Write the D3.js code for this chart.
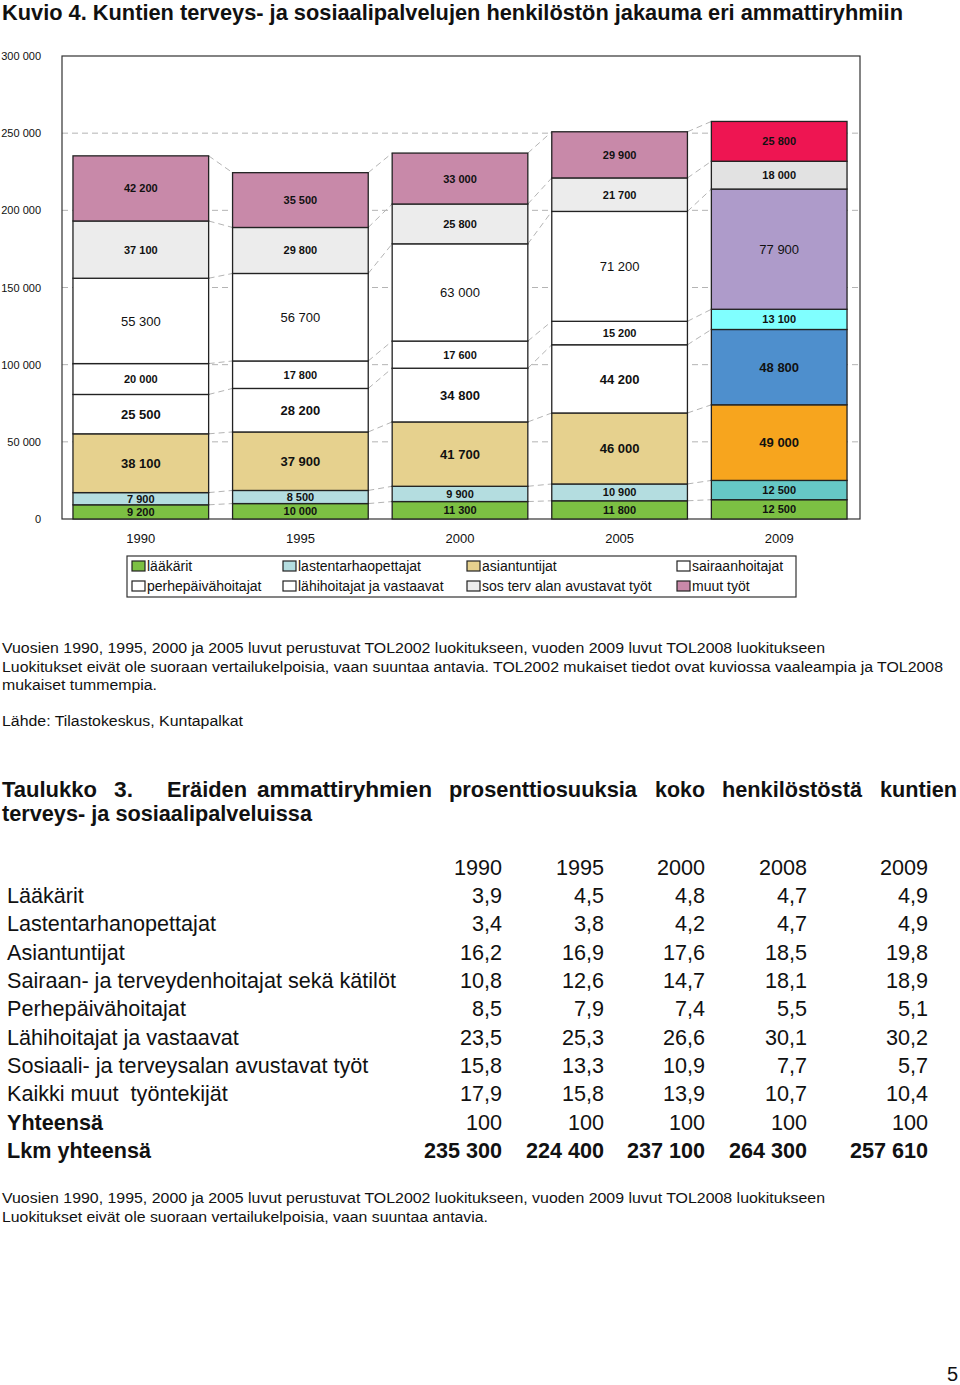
<!DOCTYPE html>
<html><head><meta charset="utf-8">
<script src="https://cdn.jsdelivr.net/npm/d3@7"></script>
<style>
html,body{margin:0;padding:0;background:#fff;}
svg{display:block;}
text{font-family:"Liberation Sans",Arial,Helvetica,sans-serif;fill:#111;}
</style></head>
<body>
<svg id="page" width="960" height="1385"></svg>
<script>
// ---------- DATA ----------
const years = ["1990","1995","2000","2005","2009"];
const seriesNames = ["lääkärit","lastentarhaopettajat","asiantuntijat","sairaanhoitajat",
  "perhepäivähoitajat","lähihoitajat ja vastaavat","sos terv alan avustavat työt","muut työt"];
const laakarit        = [9200, 10000, 11300, 11800, 12500];
const lastentarha     = [7900, 8500, 9900, 10900, 12500];
const asiantuntijat   = [38100, 37900, 41700, 46000, 49000];
const sairaanhoitajat = [25500, 28200, 34800, 44200, 48800];
const perhepaiva      = [20000, 17800, 17600, 15200, 13100];
const lahihoitajat    = [55300, 56700, 63000, 71200, 77900];
const sosterv         = [37100, 29800, 25800, 21700, 18000];
const muut            = [42200, 35500, 33000, 29900, 25800];
const yTicks = [0, 50000, 100000, 150000, 200000, 250000, 300000];
const yTickLabels = ["0","50 000","100 000","150 000","200 000","250 000","300 000"];

const tableYears = ["1990","1995","2000","2008","2009"];
const tableLabels = ["Lääkärit","Lastentarhanopettajat","Asiantuntijat","Sairaan- ja terveydenhoitajat sekä kätilöt",
  "Perhepäivähoitajat","Lähihoitajat ja vastaavat","Sosiaali- ja terveysalan avustavat työt","Kaikki muut  työntekijät"];
const tLaakarit   = ["3,9","4,5","4,8","4,7","4,9"];
const tLastentarha= ["3,4","3,8","4,2","4,7","4,9"];
const tAsiantunt  = ["16,2","16,9","17,6","18,5","19,8"];
const tSairaan    = ["10,8","12,6","14,7","18,1","18,9"];
const tPerhe      = ["8,5","7,9","7,4","5,5","5,1"];
const tLahi       = ["23,5","25,3","26,6","30,1","30,2"];
const tSosiaali   = ["15,8","13,3","10,9","7,7","5,7"];
const tMuut       = ["17,9","15,8","13,9","10,7","10,4"];
const tYhteensa   = ["100","100","100","100","100"];
const tLkm        = ["235 300","224 400","237 100","264 300","257 610"];

// ---------- STYLE ----------
const lightColors = ["#7cc043","#b4dde0","#e6d18e","#ffffff","#ffffff","#ffffff","#ececec","#c889a9"];
const darkColors  = ["#7cc043","#66c8c6","#f7a51e","#4e8fcd","#80ffff","#ae9bca","#e2e2e2","#ee1552"];
const labelSize   = [11,11,13,13,11,13,11,11];
const labelWeight = ["bold","bold","bold","bold","bold","normal","bold","bold"];
const tableFont = "21.6px";

const svg = d3.select("#page");
svg.append("rect").attr("width",960).attr("height",1385).attr("fill","#fff");

const boldNarrow = '"Liberation Sans Narrow","Arial Narrow","Liberation Sans",Arial,sans-serif';

// Title
svg.append("text").attr("x",2).attr("y",20)
  .style("font-family",boldNarrow).style("font-weight","bold").style("font-size","22px")
  .attr("textLength",901).attr("lengthAdjust","spacingAndGlyphs")
  .text("Kuvio 4. Kuntien terveys- ja sosiaalipalvelujen henkilöstön jakauma eri ammattiryhmiin");

// ---------- CHART ----------
const seriesValues = [laakarit, lastentarha, asiantuntijat, sairaanhoitajat, perhepaiva, lahihoitajat, sosterv, muut];
const rows = years.map((yr,i)=>{ const o={year:yr}; seriesNames.forEach((s,k)=>o[s]=seriesValues[k][i]); return o; });
const stack = d3.stack().keys(seriesNames)(rows);

const x = d3.scaleBand().domain(years).range([61,859]).paddingInner(0.15).paddingOuter(0.075);
const y = d3.scaleLinear().domain([0,300000]).range([519,56]);

const g = svg.append("g");

// gridlines
g.selectAll("line.grid").data(yTicks.filter(d=>d>0 && d<300000)).join("line")
  .attr("x1",62).attr("x2",860).attr("y1",d=>y(d)).attr("y2",d=>y(d))
  .attr("stroke","#b4b4b4").attr("stroke-width",1).attr("stroke-dasharray","6,4");

// series lines
stack.forEach(layer=>{
  for(let i=0;i<years.length-1;i++){
    g.append("line")
      .attr("x1",x(years[i])+x.bandwidth()).attr("y1",y(layer[i][1]))
      .attr("x2",x(years[i+1])).attr("y2",y(layer[i+1][1]))
      .attr("stroke","#b4b4b4").attr("stroke-width",1).attr("stroke-dasharray","6,4");
  }
});

// frame
g.append("rect").attr("x",62).attr("y",y(300000)).attr("width",798).attr("height",y(0)-y(300000))
  .attr("fill","none").attr("stroke","#333").attr("stroke-width",1.2);

// bars
stack.forEach((layer,k)=>{
  g.selectAll(null).data(layer).join("rect")
    .attr("x",d=>x(d.data.year)).attr("width",x.bandwidth())
    .attr("y",d=>y(d[1])).attr("height",d=>y(d[0])-y(d[1]))
    .attr("fill",(d,i)=>years[i]==="2009"?darkColors[k]:lightColors[k])
    .attr("stroke","#222").attr("stroke-width",1.3);
});
// labels
stack.forEach((layer,k)=>{
  g.selectAll(null).data(layer).join("text")
    .attr("x",d=>x(d.data.year)+x.bandwidth()/2)
    .attr("y",d=>(y(d[0])+y(d[1]))/2).attr("dy","0.36em")
    .attr("text-anchor","middle")
    .style("font-size",labelSize[k]+"px").style("font-weight",labelWeight[k])
    .text(d=>d3.format(",")(d[1]-d[0]).replace(/,/g," "));
});

// axes
const ya = g.append("g").attr("transform","translate(62,0)")
  .call(d3.axisLeft(y).tickValues(yTicks).tickFormat((d,i)=>yTickLabels[i]).tickSize(0).tickPadding(21));
ya.select(".domain").remove();
ya.selectAll("text").style("font-size","11px").style("font-family",'"Liberation Sans",Arial,sans-serif').attr("fill","#111");

const xa = g.append("g").attr("transform","translate(0,519)")
  .call(d3.axisBottom(x).tickSize(0).tickPadding(14.5));
xa.select(".domain").remove();
xa.selectAll("text").style("font-size","13px").style("font-family",'"Liberation Sans",Arial,sans-serif').attr("fill","#111");

// legend
svg.append("rect").attr("x",127).attr("y",556).attr("width",669).attr("height",41)
  .attr("fill","#fff").attr("stroke","#333").attr("stroke-width",1.2);
const legX = [132,283,467,677];
seriesNames.forEach((s,k)=>{
  const col=k%4, row=Math.floor(k/4);
  const lx=legX[col], ly=566+row*20;
  svg.append("rect").attr("x",lx).attr("y",ly-5).attr("width",13).attr("height",10)
    .attr("fill",lightColors[k]).attr("stroke","#222").attr("stroke-width",1.2);
  svg.append("text").attr("x",lx+15).attr("y",ly+5).style("font-size","14px").text(s);
});

// ---------- NOTES ----------
function note(txt,yy,len){
  const t=svg.append("text").attr("x",2).attr("y",yy).style("font-size","15.5px").text(txt);
  if(len) t.attr("textLength",len).attr("lengthAdjust","spacingAndGlyphs");
}
note("Vuosien 1990, 1995, 2000 ja 2005 luvut perustuvat TOL2002 luokitukseen, vuoden 2009 luvut TOL2008 luokitukseen",653,823);
note("Luokitukset eivät ole suoraan vertailukelpoisia, vaan suuntaa antavia. TOL2002 mukaiset tiedot ovat kuviossa vaaleampia ja TOL2008",672,941);
note("mukaiset tummempia.",690,155);
note("Lähde: Tilastokeskus, Kuntapalkat",726,241);

// ---------- TABLE HEADING ----------
const headWords = [["Taulukko",2,95],["3.",114,19],["Eräiden",167,80],["ammattiryhmien",257,175],
  ["prosenttiosuuksia",449,188],["koko",655,50],["henkilöstöstä",722,140],["kuntien",880,77]];
headWords.forEach(w=>{
  svg.append("text").attr("x",w[1]).attr("y",797)
    .style("font-family",boldNarrow).style("font-weight","bold").style("font-size","22px")
    .attr("textLength",w[2]).attr("lengthAdjust","spacingAndGlyphs").text(w[0]);
});
svg.append("text").attr("x",2).attr("y",821)
  .style("font-family",boldNarrow).style("font-weight","bold").style("font-size","22px")
  .attr("textLength",310).attr("lengthAdjust","spacingAndGlyphs").text("terveys- ja sosiaalipalveluissa");

// ---------- TABLE ----------
const colRight = [502,604,705,807,928];
const tableVals = [tLaakarit,tLastentarha,tAsiantunt,tSairaan,tPerhe,tLahi,tSosiaali,tMuut];
const rowY = i => 903 + i*28.33;
tableYears.forEach((yr,c)=>{
  svg.append("text").attr("x",colRight[c]).attr("y",875).attr("text-anchor","end")
    .style("font-size",tableFont).text(yr);
});
tableLabels.forEach((lab,r)=>{
  svg.append("text").attr("x",7).attr("y",rowY(r)).style("font-size",tableFont).style("white-space","pre").text(lab);
  tableVals[r].forEach((v,c)=>{
    svg.append("text").attr("x",colRight[c]).attr("y",rowY(r)).attr("text-anchor","end")
      .style("font-size",tableFont).text(v);
  });
});
svg.append("text").attr("x",7).attr("y",rowY(8)).style("font-size",tableFont).style("font-weight","bold").text("Yhteensä");
tYhteensa.forEach((v,c)=>svg.append("text").attr("x",colRight[c]).attr("y",rowY(8)).attr("text-anchor","end").style("font-size",tableFont).text(v));
svg.append("text").attr("x",7).attr("y",rowY(9)).style("font-size",tableFont).style("font-weight","bold").text("Lkm yhteensä");
tLkm.forEach((v,c)=>svg.append("text").attr("x",colRight[c]).attr("y",rowY(9)).attr("text-anchor","end").style("font-size",tableFont).style("font-weight","bold").text(v));

// bottom notes
note("Vuosien 1990, 1995, 2000 ja 2005 luvut perustuvat TOL2002 luokitukseen, vuoden 2009 luvut TOL2008 luokitukseen",1203,823);
note("Luokitukset eivät ole suoraan vertailukelpoisia, vaan suuntaa antavia.",1222,486);

// page number
svg.append("text").attr("x",958).attr("y",1381).attr("text-anchor","end").style("font-size","20px").text("5");
</script>
</body></html>
